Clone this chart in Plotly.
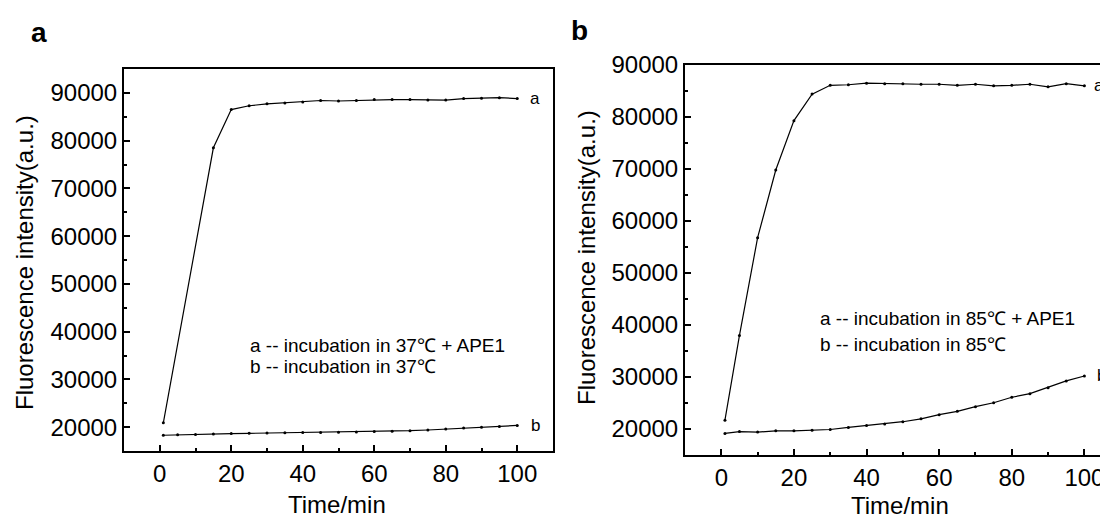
import plotly.graph_objects as go

# page body has an 8px margin; figure sized so that the page does not scroll
OFF = 8
W, H = 1108 - OFF, 528 - 2 * OFF

# ---------------- data ----------------
# Panel a (37 °C)
time_a_ape = [1, 15, 20, 25, 30, 35, 40, 45, 50, 55, 60, 65, 70, 75, 80, 85, 90, 95, 100]
fluor_a_ape = [20900, 78500, 86500, 87300, 87700, 87900, 88100, 88400, 88300, 88400,
               88600, 88600, 88600, 88500, 88500, 88800, 88900, 89000, 88800]
time_a_ctrl = [1, 5, 10, 15, 20, 25, 30, 35, 40, 45, 50, 55, 60, 65, 70, 75, 80, 85, 90, 95, 100]
fluor_a_ctrl = [18300, 18400, 18450, 18550, 18650, 18700, 18750, 18800, 18850, 18900, 18950,
                19000, 19100, 19150, 19250, 19400, 19600, 19800, 19950, 20150, 20350]

# Panel b (85 °C)
time_b = [1, 5, 10, 15, 20, 25, 30, 35, 40, 45, 50, 55, 60, 65, 70, 75, 80, 85, 90, 95, 100]
fluor_b_ape = [21700, 38000, 56800, 69800, 79300, 84400, 86100, 86200, 86500, 86400, 86400,
               86300, 86300, 86100, 86300, 86000, 86100, 86300, 85800, 86400, 86000]
fluor_b_ctrl = [19150, 19500, 19400, 19650, 19650, 19750, 19900, 20300, 20650, 20950, 21400,
                21950, 22750, 23400, 24300, 25050, 26100, 26800, 27950, 29250, 30200]

x_ticks = [0, 20, 40, 60, 80, 100]
y_ticks = [20000, 30000, 40000, 50000, 60000, 70000, 80000, 90000]

legend_a = ["a -- incubation in 37℃ + APE1", "b -- incubation in 37℃"]
legend_b = ["a -- incubation in 85℃ + APE1", "b -- incubation in 85℃"]

FONT = "Liberation Sans, Arial, sans-serif"

fig = go.Figure()

line_style = dict(color="black", width=1.2)
marker_style = dict(color="black", size=3)

fig.add_trace(go.Scatter(x=time_a_ape, y=fluor_a_ape, mode="lines+markers",
                         line=line_style, marker=marker_style, xaxis="x", yaxis="y"))
fig.add_trace(go.Scatter(x=time_a_ctrl, y=fluor_a_ctrl, mode="lines+markers",
                         line=line_style, marker=marker_style, xaxis="x", yaxis="y"))
fig.add_trace(go.Scatter(x=time_b, y=fluor_b_ape, mode="lines+markers",
                         line=line_style, marker=marker_style, xaxis="x2", yaxis="y2"))
fig.add_trace(go.Scatter(x=time_b, y=fluor_b_ctrl, mode="lines+markers",
                         line=line_style, marker=marker_style, xaxis="x2", yaxis="y2"))


def px_x(p):
    return (p - OFF) / W


def px_y(p):
    return 1 - (p - OFF) / H


def xaxis(domain, rng, anchor, mirror):
    return dict(domain=domain, range=rng, anchor=anchor, showline=True, linecolor="black",
                linewidth=2, mirror=mirror, ticks="inside", ticklen=6, tickwidth=1.5,
                tickcolor="black", tickmode="array", tickvals=x_ticks,
                tickfont=dict(family=FONT, size=24, color="black"),
                showgrid=False, zeroline=False, automargin=False,
                minor=dict(tickmode="linear", tick0=0, dtick=10, ticks="inside",
                           ticklen=3, tickwidth=1.5, tickcolor="black"))


def yaxis(domain, rng, anchor, mirror):
    return dict(domain=domain, range=rng, anchor=anchor, showline=True, linecolor="black",
                linewidth=2, mirror=mirror, ticks="inside", ticklen=6, tickwidth=1.5,
                tickcolor="black", tickmode="array", tickvals=y_ticks, tickformat="d",
                tickfont=dict(family=FONT, size=24, color="black"),
                showgrid=False, zeroline=False, automargin=False,
                minor=dict(tickmode="linear", tick0=0, dtick=5000, ticks="inside",
                           ticklen=3, tickwidth=1.5, tickcolor="black"))


fig.update_layout(
    width=W, height=H,
    margin=dict(l=0, r=0, t=0, b=0),
    paper_bgcolor="white", plot_bgcolor="white",
    showlegend=False,
    font=dict(family=FONT, color="black"),
    xaxis=xaxis([px_x(124), px_x(553)], [-10, 110], "y", True),
    yaxis=yaxis([px_y(451), px_y(69)], [15000, 95000], "x", True),
    xaxis2=xaxis([px_x(685), 1.0], [-10, 106.5], "y2", True),
    yaxis2=yaxis([px_y(455), px_y(65)], [15000, 90000], "x2", False),
)

ann = []


def paper_text(text, cx, cy, size, angle=0):
    ann.append(dict(text=text, xref="paper", yref="paper", x=px_x(cx), y=px_y(cy),
                    xanchor="center", yanchor="middle", textangle=angle, showarrow=False,
                    font=dict(family=FONT, size=size, color="black")))


# panel letters
paper_text("<b>a</b>", 39, 32, 28)
paper_text("<b>b</b>", 579, 30, 28)
# axis titles
paper_text("Fluorescence intensity(a.u.)", 24, 263, 24, -90)
paper_text("Fluorescence intensity(a.u.)", 586, 258, 24, -90)
paper_text("Time/min", 337, 504, 24)
paper_text("Time/min", 900, 505, 24)

# curve end labels
end_font = dict(family=FONT, size=17, color="black")
ann.append(dict(text="a", xref="x", yref="y", x=105, y=fluor_a_ape[-1], showarrow=False,
                xanchor="center", yanchor="middle", font=end_font))
ann.append(dict(text="b", xref="x", yref="y", x=105, y=fluor_a_ctrl[-1], showarrow=False,
                xanchor="center", yanchor="middle", font=end_font))
ann.append(dict(text="a", xref="x2", yref="y2", x=104, y=fluor_b_ape[-1], showarrow=False,
                xanchor="center", yanchor="middle", font=end_font))
ann.append(dict(text="b", xref="x2", yref="y2", x=104.6, y=fluor_b_ctrl[-1], showarrow=False,
                xanchor="center", yanchor="middle", font=end_font))

# in-plot descriptions
for txt, yv in zip(legend_a, [37200, 32600]):
    ann.append(dict(text=txt, xref="x", yref="y", x=24.6, y=yv, xanchor="left",
                    yanchor="middle", showarrow=False,
                    font=dict(family=FONT, size=19, color="black")))
for txt, yv in zip(legend_b, [41300, 36300]):
    ann.append(dict(text=txt, xref="x2", yref="y2", x=26.6, y=yv, xanchor="left",
                    yanchor="middle", showarrow=False,
                    font=dict(family=FONT, size=19, color="black")))

fig.update_layout(annotations=ann)
fig.write_html("out.html")
